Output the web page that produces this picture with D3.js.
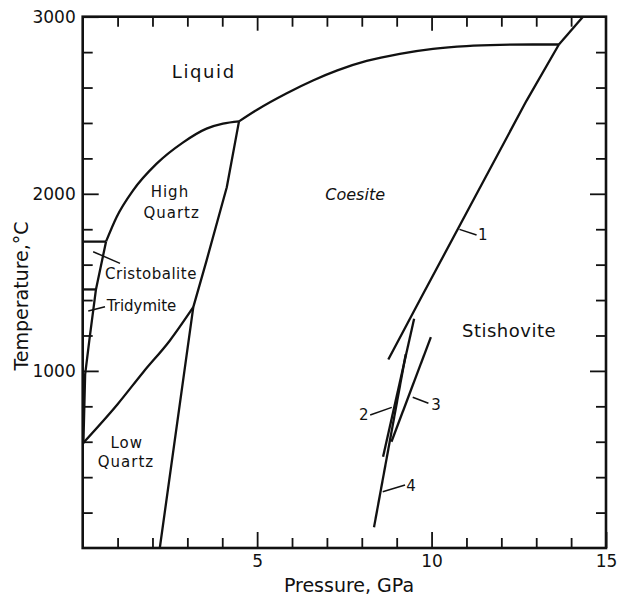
<!DOCTYPE html>
<html>
<head>
<meta charset="utf-8">
<script src="https://cdn.jsdelivr.net/npm/d3@7"></script>
<style>
  html, body { margin: 0; padding: 0; background: #fff; }
  svg { display: block; font-family: "DejaVu Sans", sans-serif; }
  text { fill: #111; }
</style>
</head>
<body>
<svg id="chart" width="619" height="596"></svg>
<script>
// SiO2 phase diagram: pressure (GPa) vs temperature (°C)
const pressureRange = [0, 15];
const temperatureRange = [0, 3000];
const pressureLabelTicks = [5, 10, 15];
const pressureMinorTicks = d3.range(1, 15, 1);
const temperatureLabelTicks = [1000, 2000, 3000];
const temperatureMinorTicks = d3.range(200, 3000, 200);

// Phase boundaries as [pressure, temperature] pairs
const cristobaliteTop = [[0, 1730], [0.67, 1730]];
const tridymiteTop = [[0, 1460], [0.38, 1460]];
const lowPressureSilica = [[0.67, 1731], [0.38, 1460], [0.19, 1172], [0.07, 980], [0.02, 590]];
const liquidusQuartz = [[0.67, 1731], [0.97, 1868], [1.44, 2018], [2.12, 2170], [2.87, 2289],
  [3.55, 2368], [4.02, 2396], [4.48, 2409]];
const liquidusCoesite = [[4.48, 2409], [5.0, 2475], [5.85, 2568], [6.6, 2640], [7.3, 2697],
  [8.14, 2750], [9.09, 2790], [10.04, 2818], [11.0, 2834], [11.96, 2841], [12.9, 2843], [13.65, 2843]];
const liquidusStishovite = [[13.65, 2843], [14.34, 3000]];
const quartzCoesite = [[2.21, 0], [3.17, 1360], [3.55, 1623], [4.13, 2037], [4.48, 2409]];
const lowHighQuartz = [[0, 590], [1.0, 812], [1.74, 994], [2.5, 1172], [3.17, 1360]];
const coesiteStishovite1 = [[13.65, 2843], [12.72, 2525], [11.19, 1962], [9.71, 1417], [8.76, 1064]];
const coesiteStishovite2 = [[9.50, 1295], [8.61, 515]];
const coesiteStishovite3 = [[9.98, 1191], [8.85, 600]];
const coesiteStishovite4 = [[8.35, 117], [9.26, 1094]];

// Field names and curve numbers
const fieldLabels = [
  { text: "Liquid", p: 3.47, t: 2652, size: 18, ls: 1.6, anchor: "middle" },
  { text: "High", p: 2.50, t: 1983, size: 15, ls: 1, anchor: "middle" },
  { text: "Quartz", p: 2.55, t: 1861, size: 15, ls: 1, anchor: "middle" },
  { text: "Coesite", p: 7.81, t: 1965, size: 16, ls: 0, anchor: "middle", italic: true },
  { text: "Stishovite", p: 12.22, t: 1193, size: 18, ls: 0.5, anchor: "middle" },
  { text: "Low", p: 1.26, t: 563, size: 15, ls: 1, anchor: "middle" },
  { text: "Quartz", p: 1.24, t: 459, size: 15, ls: 1, anchor: "middle" },
  { text: "Cristobalite", p: 0.64, t: 1517, size: 15, ls: 0.5, anchor: "start" },
  { text: "Tridymite", p: 0.69, t: 1340, size: 15, ls: 0, anchor: "start" },
  { text: "1", p: 11.47, t: 1739, size: 15, ls: 0, anchor: "middle" },
  { text: "2", p: 8.06, t: 723, size: 15, ls: 0, anchor: "middle" },
  { text: "3", p: 10.13, t: 779, size: 15, ls: 0, anchor: "middle" },
  { text: "4", p: 9.41, t: 324, size: 15, ls: 0, anchor: "middle" }
];
const leaders = [
  [[10.80, 1799], [11.29, 1767]],
  [[8.24, 751], [8.86, 794]],
  [[9.46, 851], [9.91, 817]],
  [[8.60, 318], [9.24, 356]],
  [[0.30, 1673], [1.07, 1607]],
  [[0.16, 1338], [0.64, 1362]]
];

const svg = d3.select("#chart");
const margin = { left: 82.7, right: 13, top: 16.7, bottom: 48 };
const W = 619, H = 596;

const x = d3.scaleLinear().domain(pressureRange).range([margin.left, W - margin.right]);
const y = d3.scaleLinear().domain(temperatureRange).range([H - margin.bottom, margin.top]);

const minorLen = 10, majorLen = 16;
const ink = "#111";

function styleAxis(g) {
  g.select(".domain").remove();
  g.selectAll(".tick line").attr("stroke", ink).attr("stroke-width", 1.8);
}

// Bottom axis
svg.append("g").attr("transform", `translate(0,${y(0)})`)
  .call(d3.axisBottom(x).tickValues(pressureMinorTicks.filter(d => d % 5 !== 0)).tickSize(-minorLen).tickFormat(""))
  .call(styleAxis);
svg.append("g").attr("transform", `translate(0,${y(0)})`)
  .call(d3.axisBottom(x).tickValues(pressureLabelTicks).tickSize(-majorLen).tickPadding(7).tickFormat(d3.format("d")))
  .call(styleAxis)
  .call(g => g.selectAll("text").attr("font-size", 17).attr("font-family", "DejaVu Sans").attr("fill", ink));

// Top axis
svg.append("g").attr("transform", `translate(0,${y(3000)})`)
  .call(d3.axisTop(x).tickValues(pressureMinorTicks).tickSize(-minorLen).tickFormat(""))
  .call(styleAxis)
  .call(g => g.selectAll(".tick").filter(d => d % 5 === 0).select("line").attr("y2", majorLen - 2));

// Left axis
svg.append("g").attr("transform", `translate(${x(0)},0)`)
  .call(d3.axisLeft(y).tickValues(temperatureMinorTicks.filter(d => d % 1000 !== 0)).tickSize(-minorLen).tickFormat(""))
  .call(styleAxis);
svg.append("g").attr("transform", `translate(${x(0)},0)`)
  .call(d3.axisLeft(y).tickValues(temperatureLabelTicks).tickSize(-majorLen).tickPadding(7).tickFormat(d3.format("d")))
  .call(styleAxis)
  .call(g => g.selectAll("text").attr("font-size", 17).attr("font-family", "DejaVu Sans").attr("fill", ink));

// Right axis
svg.append("g").attr("transform", `translate(${x(15)},0)`)
  .call(d3.axisRight(y).tickValues(temperatureMinorTicks).tickSize(-minorLen).tickFormat(""))
  .call(styleAxis)
  .call(g => g.selectAll(".tick").filter(d => d % 1000 === 0).select("line").attr("x2", -majorLen));

// Frame
svg.append("rect")
  .attr("x", x(0)).attr("y", y(3000))
  .attr("width", x(15) - x(0)).attr("height", y(0) - y(3000))
  .attr("fill", "none").attr("stroke", ink).attr("stroke-width", 2.6);

// Boundaries
const smooth = d3.line().x(d => x(d[0])).y(d => y(d[1])).curve(d3.curveMonotoneX);
const straight = d3.line().x(d => x(d[0])).y(d => y(d[1]));

const curves = [
  { data: cristobaliteTop, gen: straight },
  { data: tridymiteTop, gen: straight },
  { data: lowPressureSilica, gen: straight },
  { data: liquidusQuartz, gen: smooth },
  { data: liquidusCoesite, gen: smooth },
  { data: liquidusStishovite, gen: straight },
  { data: quartzCoesite, gen: straight },
  { data: lowHighQuartz, gen: smooth },
  { data: coesiteStishovite1, gen: straight },
  { data: coesiteStishovite2, gen: straight },
  { data: coesiteStishovite3, gen: straight },
  { data: coesiteStishovite4, gen: straight }
];
svg.append("g").selectAll("path").data(curves).join("path")
  .attr("d", d => d.gen(d.data))
  .attr("fill", "none").attr("stroke", ink).attr("stroke-width", 2.3)
  .attr("stroke-linejoin", "round").attr("stroke-linecap", "butt");

// Leader lines
svg.append("g").selectAll("path").data(leaders).join("path")
  .attr("d", d => straight(d))
  .attr("fill", "none").attr("stroke", ink).attr("stroke-width", 1.5);

// Labels
svg.append("g").selectAll("text").data(fieldLabels).join("text")
  .attr("x", d => x(d.p)).attr("y", d => y(d.t))
  .attr("text-anchor", d => d.anchor)
  .attr("font-size", d => d.size)
  .attr("letter-spacing", d => d.ls)
  .attr("font-style", d => d.italic ? "italic" : "normal")
  .text(d => d.text);

// Axis titles
svg.append("text")
  .attr("x", 349).attr("y", 592)
  .attr("text-anchor", "middle").attr("font-size", 19)
  .text("Pressure, GPa");
svg.append("text")
  .attr("transform", "translate(28,296) rotate(-90)")
  .attr("text-anchor", "middle").attr("font-size", 19)
  .text("Temperature,°C");
</script>
</body>
</html>
